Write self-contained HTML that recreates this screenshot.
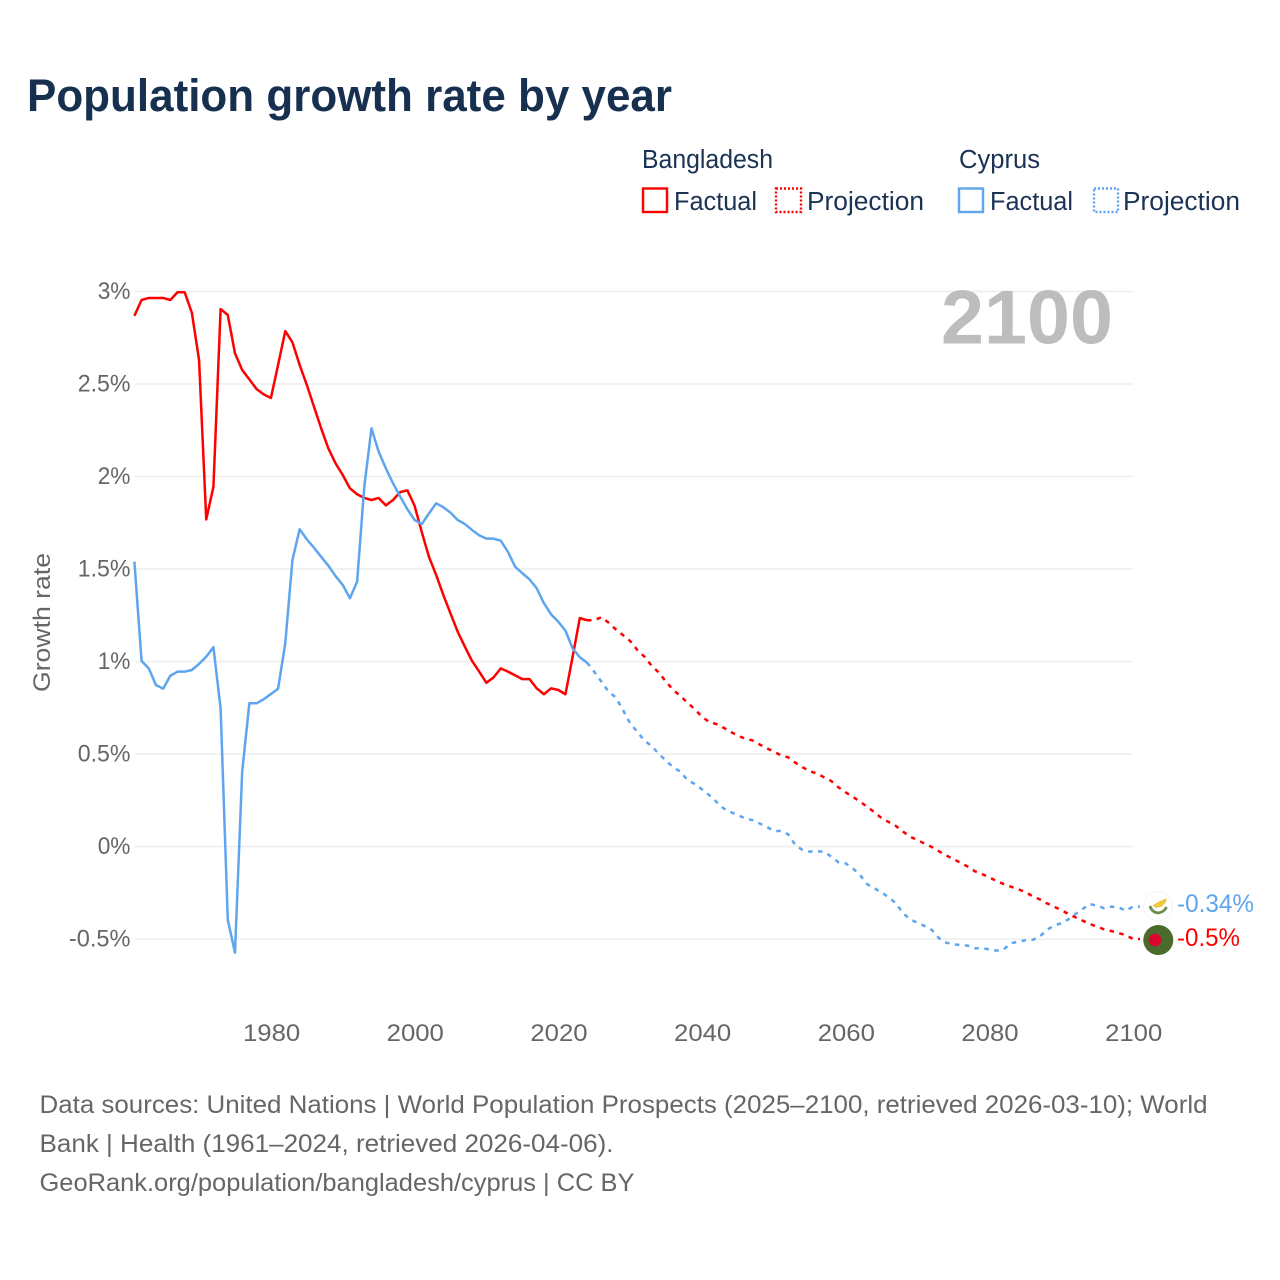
<!DOCTYPE html>
<html lang="en">
<head>
<meta charset="utf-8">
<title>Population growth rate by year</title>
<style>
  html, body { margin: 0; padding: 0; background: #ffffff; }
  svg { display: block; font-family: "Liberation Sans", sans-serif; }
</style>
</head>
<body>
<svg id="chart" xmlns="http://www.w3.org/2000/svg" width="1280" height="1280" viewBox="0 0 1280 1280">
  <rect x="0" y="0" width="1280" height="1280" fill="#ffffff"/>
  <text x="27" y="111" font-size="45" font-weight="700" fill="#17304f" textLength="645" lengthAdjust="spacingAndGlyphs">Population growth rate by year</text>

  <g font-size="25.5" fill="#1a3254">
    <text x="642" y="168" textLength="131" lengthAdjust="spacingAndGlyphs">Bangladesh</text>
    <text x="959" y="168" textLength="81" lengthAdjust="spacingAndGlyphs">Cyprus</text>
    <rect x="643" y="188.5" width="24" height="23.5" fill="none" stroke="#ff0000" stroke-width="2.4"/>
    <text x="674" y="210" textLength="83" lengthAdjust="spacingAndGlyphs">Factual</text>
    <rect x="776" y="188.5" width="25" height="23.5" fill="none" stroke="#ff0000" stroke-width="2.4" stroke-dasharray="2,2"/>
    <text x="807" y="210" textLength="117" lengthAdjust="spacingAndGlyphs">Projection</text>
    <rect x="959" y="188.5" width="24" height="23.5" fill="none" stroke="#5ea5ee" stroke-width="2.4"/>
    <text x="990" y="210" textLength="83" lengthAdjust="spacingAndGlyphs">Factual</text>
    <rect x="1094" y="188.5" width="24" height="23.5" fill="none" stroke="#5ea5ee" stroke-width="2.4" stroke-dasharray="2,2"/>
    <text x="1123" y="210" textLength="117" lengthAdjust="spacingAndGlyphs">Projection</text>
  </g>

  <g id="grid"></g>
  <text x="1113" y="343.5" font-size="76" font-weight="700" fill="#bdbdbd" text-anchor="end" textLength="172" lengthAdjust="spacingAndGlyphs">2100</text>
  <g id="yTicks"></g>
  <g id="xTicks"></g>
  <text transform="translate(50,692) rotate(-90)" font-size="24" fill="#666666" textLength="139" lengthAdjust="spacingAndGlyphs">Growth rate</text>
  <g id="series"></g>

  <g>
    <circle cx="1158" cy="906" r="14.5" fill="#ffffff" stroke="#e4e4e4" stroke-width="1" stroke-dasharray="1,1.5"/>
    <path d="M1152.5 905.5 L1158 902 L1166.5 898 L1166 902 L1162 906.5 L1156 908 Z" fill="#f2c73f"/>
    <path d="M1150 906 Q1151.5 912 1158 913 Q1164.5 912 1166.5 907" fill="none" stroke="#6c8f4e" stroke-width="2.8"/>
  </g>
  <g>
    <circle cx="1158.3" cy="940" r="15" fill="#4b6b2d"/>
    <circle cx="1155" cy="940" r="6.4" fill="#d8062e"/>
  </g>
  <text x="1177" y="912" font-size="25" fill="#5ea5ee" textLength="77" lengthAdjust="spacingAndGlyphs">-0.34%</text>
  <text x="1177" y="946" font-size="25" fill="#ff0000" textLength="63" lengthAdjust="spacingAndGlyphs">-0.5%</text>

  <g font-size="25" fill="#666666">
    <text x="39.5" y="1113" textLength="1168" lengthAdjust="spacingAndGlyphs">Data sources: United Nations | World Population Prospects (2025–2100, retrieved 2026-03-10); World</text>
    <text x="39.5" y="1152" textLength="574" lengthAdjust="spacingAndGlyphs">Bank | Health (1961–2024, retrieved 2026-04-06).</text>
    <text x="39.5" y="1191" textLength="595" lengthAdjust="spacingAndGlyphs">GeoRank.org/population/bangladesh/cyprus | CC BY</text>
  </g>
</svg>

<script>
const yTickValues = [3, 2.5, 2, 1.5, 1, 0.5, 0, -0.5];
const yTickLabels = ["3%", "2.5%", "2%", "1.5%", "1%", "0.5%", "0%", "-0.5%"];
const xTickValues = [1980, 2000, 2020, 2040, 2060, 2080, 2100];
const xTickLabels = ["1980", "2000", "2020", "2040", "2060", "2080", "2100"];
const factualStartYear = 1961;
const projectionStartYear = 2024;
const bangladeshFactual = [
  2.868, 2.954, 2.965, 2.965, 2.965, 2.954, 2.996, 2.996, 2.885, 2.63,
  1.768, 1.945, 2.905, 2.873, 2.666, 2.576, 2.525, 2.473, 2.444, 2.424,
  2.603, 2.786, 2.725, 2.603, 2.495, 2.377, 2.26, 2.152, 2.071, 2.008,
  1.936, 1.904, 1.884, 1.873, 1.884, 1.844, 1.873, 1.916, 1.925, 1.842,
  1.7, 1.566, 1.468, 1.36, 1.26, 1.161, 1.08, 1.003, 0.945, 0.885,
  0.914, 0.963, 0.945, 0.925, 0.905, 0.905, 0.855, 0.823, 0.855, 0.846,
  0.823, 1.026, 1.235, 1.223
];
const bangladeshProjection = [
  1.223, 1.223, 1.239, 1.21, 1.174, 1.143, 1.111, 1.062, 1.026, 0.977,
  0.94, 0.891, 0.846, 0.814, 0.777, 0.742, 0.702, 0.673, 0.662, 0.642,
  0.62, 0.599, 0.583, 0.574, 0.552, 0.531, 0.513, 0.493, 0.482, 0.453,
  0.428, 0.408, 0.394, 0.374, 0.354, 0.32, 0.293, 0.269, 0.242, 0.215,
  0.185, 0.154, 0.132, 0.111, 0.08, 0.053, 0.035, 0.015, -0.003, -0.026,
  -0.048, -0.068, -0.088, -0.109, -0.134, -0.149, -0.167, -0.186, -0.203, -0.217,
  -0.231, -0.246, -0.268, -0.285, -0.307, -0.325, -0.343, -0.365, -0.383, -0.401,
  -0.419, -0.434, -0.448, -0.457, -0.469, -0.478, -0.5
];
const cyprusFactual = [
  1.54, 1.003, 0.963, 0.873, 0.853, 0.923, 0.945, 0.945, 0.954, 0.987,
  1.026, 1.077, 0.747, -0.397, -0.574, 0.404, 0.774, 0.774, 0.796, 0.824,
  0.853, 1.098, 1.549, 1.715, 1.66, 1.615, 1.566, 1.518, 1.462, 1.414,
  1.342, 1.431, 1.945, 2.26, 2.134, 2.044, 1.963, 1.891, 1.823, 1.765,
  1.743, 1.8, 1.855, 1.834, 1.805, 1.765, 1.743, 1.711, 1.682, 1.664,
  1.664, 1.653, 1.592, 1.512, 1.477, 1.444, 1.396, 1.315, 1.255, 1.215,
  1.167, 1.071, 1.023, 0.994
];
const cyprusProjection = [
  0.994, 0.945, 0.891, 0.837, 0.806, 0.738, 0.666, 0.62, 0.572, 0.543,
  0.5, 0.464, 0.428, 0.404, 0.359, 0.338, 0.309, 0.278, 0.242, 0.206,
  0.186, 0.17, 0.152, 0.143, 0.125, 0.107, 0.084, 0.084, 0.066, 0.008,
  -0.019, -0.028, -0.026, -0.028, -0.055, -0.085, -0.091, -0.118, -0.154, -0.204,
  -0.226, -0.248, -0.275, -0.307, -0.361, -0.394, -0.412, -0.43, -0.451, -0.496,
  -0.52, -0.529, -0.532, -0.536, -0.55, -0.55, -0.556, -0.563, -0.556, -0.523,
  -0.515, -0.507, -0.505, -0.488, -0.451, -0.428, -0.415, -0.394, -0.365, -0.338,
  -0.311, -0.32, -0.334, -0.325, -0.329, -0.347, -0.325
];

const SVG_NS = "http://www.w3.org/2000/svg";
const xScale = function (year) { return 134.4 + (year - 1961) * (998.6 / 139); };
const yScale = function (value) { return 846.5 - value * 185; };
const GLYPH_W = { "%": 18.5, ".": 5.7, "-": 8.8 };

function labelWidth(label) {
  let w = 0;
  for (const ch of label) { w += GLYPH_W[ch] || 14.3; }
  return w;
}

function makeSvg(tag, attrs, parent) {
  const el = document.createElementNS(SVG_NS, tag);
  for (const key in attrs) { el.setAttribute(key, attrs[key]); }
  parent.appendChild(el);
  return el;
}

const gridLayer = document.getElementById("grid");
const yLayer = document.getElementById("yTicks");
const xLayer = document.getElementById("xTicks");
const seriesLayer = document.getElementById("series");

yTickValues.forEach(function (value, i) {
  const line = makeSvg("line", { x1: 135, x2: 1133, y1: yScale(value), y2: yScale(value), stroke: "#eeeeee", "stroke-width": 1.5 }, gridLayer);
  
  
  const label = makeSvg("text", { x: 130.5, y: yScale(value) + 7.5, "font-size": 24.5, fill: "#666666", "text-anchor": "end", textLength: labelWidth(yTickLabels[i]), lengthAdjust: "spacingAndGlyphs" }, yLayer);
  
  
  label.textContent = yTickLabels[i];
});

xTickValues.forEach(function (year, i) {
  const label = makeSvg("text", { x: xScale(year) + 0.7, y: 1041, "font-size": 24.5, fill: "#666666", "text-anchor": "middle", textLength: labelWidth(xTickLabels[i]), lengthAdjust: "spacingAndGlyphs" }, xLayer);
  
  
  label.textContent = xTickLabels[i];
});

function buildPath(values, startYear, extend) {
  const pts = values.map(function (v, i) {
    return xScale(startYear + i).toFixed(2) + "," + yScale(v).toFixed(2);
  });
  if (extend) {
    const lastIndex = values.length - 1;
    pts.push((xScale(startYear + lastIndex) + 7).toFixed(2) + "," + yScale(values[lastIndex]).toFixed(2));
  }
  return "M" + pts.join(" L");
}

const cyprusProjectionPath = makeSvg("path", { d: buildPath(cyprusProjection, projectionStartYear, true), fill: "none", stroke: "#5ea5ee", "stroke-width": 2.5, "stroke-dasharray": "4.5,5.5", "stroke-linejoin": "round" }, seriesLayer);



const bangladeshProjectionPath = makeSvg("path", { d: buildPath(bangladeshProjection, projectionStartYear, true), fill: "none", stroke: "#ff0000", "stroke-width": 2.5, "stroke-dasharray": "4.5,5.5", "stroke-linejoin": "round" }, seriesLayer);



const bangladeshFactualPath = makeSvg("path", { d: buildPath(bangladeshFactual, factualStartYear, false), fill: "none", stroke: "#ff0000", "stroke-width": 2.5, "stroke-linejoin": "round" }, seriesLayer);



const cyprusFactualPath = makeSvg("path", { d: buildPath(cyprusFactual, factualStartYear, false), fill: "none", stroke: "#5ea5ee", "stroke-width": 2.5, "stroke-linejoin": "round" }, seriesLayer);


</script>
</body>
</html>
